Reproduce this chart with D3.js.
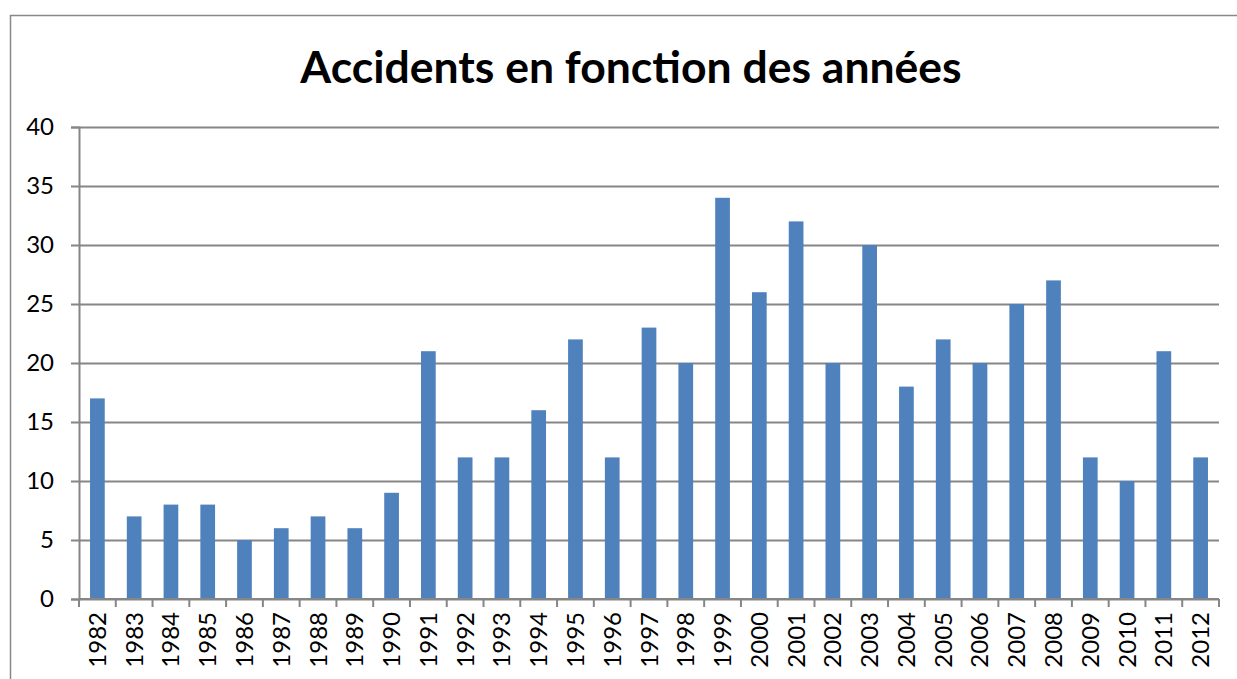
<!DOCTYPE html>
<html lang="fr">
<head>
  <meta charset="UTF-8">
  <title>Accidents en fonction des années</title>
  <script src="https://d3js.org/d3.v7.min.js"></script>
  <style>
    body { margin: 0; background: #fff; font-family: Lato, "Open Sans", sans-serif; }
    svg { display: block; }
  </style>
</head>
<body>
  <div id="chart"></div>
  <script>
    const years = ['1982','1983','1984','1985','1986','1987','1988','1989','1990','1991',
      '1992','1993','1994','1995','1996','1997','1998','1999','2000','2001','2002',
      '2003','2004','2005','2006','2007','2008','2009','2010','2011','2012'];
    const accidents = [17, 7, 8, 8, 5, 6, 7, 6, 9, 21, 12, 12, 16, 22, 12, 23, 20, 34, 26,
      32, 20, 30, 18, 22, 20, 25, 27, 12, 10, 21, 12];
    const yTicks = [0, 5, 10, 15, 20, 25, 30, 35, 40];

    const W = 1237, H = 679;
    const plotLeft = 79, plotRight = 1219, plotTop = 127, plotBottom = 599;

    const svg = d3.select('#chart').append('svg')
      .attr('width', W).attr('height', H);

    // outer chart frame
    svg.append('path')
      .attr('d', `M10.5,${H} V15.5 H${W}`)
      .attr('fill', 'none').attr('stroke', '#888').attr('stroke-width', 1.5);

    svg.append('text')
      .attr('x', 631).attr('y', 83)
      .attr('text-anchor', 'middle')
      .attr('font-size', 44.5).attr('font-weight', 'bold')
      .attr('fill', '#000')
      .text('Accidents en fonction des années');

    const x = d3.scaleBand().domain(years).range([plotLeft, plotRight]).paddingInner(0.6).paddingOuter(0.3);
    const y = d3.scaleLinear().domain([0, 40]).range([plotBottom, plotTop]);

    // grid
    svg.append('g')
      .attr('transform', `translate(${plotLeft},0)`)
      .call(d3.axisLeft(y).tickValues(yTicks).tickSize(8).tickPadding(10))
      .call(g => g.select('.domain').attr('stroke', '#868686').attr('stroke-width', 2))
      .call(g => g.selectAll('.tick line').attr('stroke', '#868686').attr('stroke-width', 2)
        .attr('x2', plotRight - plotLeft).attr('x1', -8))
      .call(g => g.selectAll('.tick text').attr('font-size', 24).attr('fill', '#000')
        .attr('font-family', 'Lato, sans-serif').attr('x', -25));

    svg.append('g').selectAll('rect')
      .data(years.map((yr, i) => ({ yr, v: accidents[i] })))
      .join('rect')
      .attr('x', d => x(d.yr))
      .attr('y', d => y(d.v))
      .attr('width', x.bandwidth())
      .attr('height', d => plotBottom - y(d.v))
      .attr('fill', '#4F81BD');

    // x axis with ticks at category boundaries
    const step = (plotRight - plotLeft) / years.length;
    const xa = svg.append('g').attr('transform', `translate(0,${plotBottom})`);
    xa.append('line').attr('x1', plotLeft).attr('x2', plotRight)
      .attr('stroke', '#868686').attr('stroke-width', 2);
    xa.selectAll('.b').data(d3.range(years.length + 1)).join('line')
      .attr('x1', i => plotLeft + i * step).attr('x2', i => plotLeft + i * step)
      .attr('y1', 0).attr('y2', 8)
      .attr('stroke', '#868686').attr('stroke-width', 2);
    xa.selectAll('text').data(years).join('text')
      .attr('transform', d => `translate(${x(d) + x.bandwidth() / 2 + 8.5},13) rotate(-90)`)
      .attr('text-anchor', 'end')
      .attr('font-size', 24)
      .attr('fill', '#000')
      .text(d => d);
  </script>
</body>
</html>
